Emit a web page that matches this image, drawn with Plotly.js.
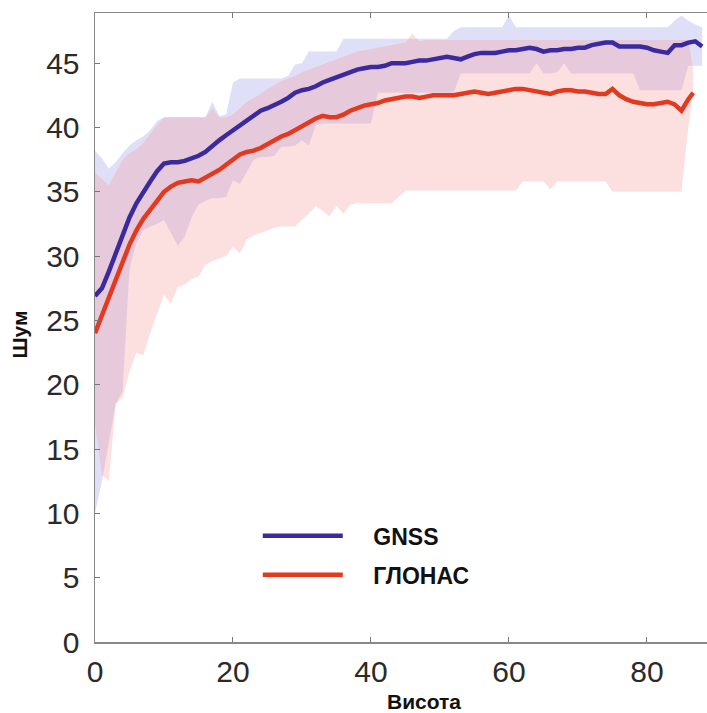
<!DOCTYPE html>
<html><head><meta charset="utf-8">
<script src="https://cdn.plot.ly/plotly-3.0.1.min.js"></script>
<style>html,body{margin:0;padding:0;background:#fff;overflow:hidden}</style>
</head><body><div id="chart" style="width:707px;height:713px"></div>
<script>
const xGnss = [0,1,2,3,4,5,6,7,8,9,10,11,12,13,14,15,16,17,18,19,20,21,22,23,24,25,26,27,28,29,30,31,32,33,34,35,36,37,38,39,40,41,42,43,44,45,46,47,48,49,50,51,52,53,54,55,56,57,58,59,60,61,62,63,64,65,66,67,68,69,70,71,72,73,74,75,76,77,78,79,80,81,82,83,84,85,86,87,88];
const gnssMean = [26.9,27.5,28.8,30.2,31.7,33.0,34.1,35.0,35.8,36.6,
  37.2,37.3,37.3,37.4,37.6,37.8,38.1,38.6,39.0,39.4,
  39.8,40.2,40.5,40.9,41.3,41.5,41.8,42.0,42.3,42.7,
  42.9,43.0,43.2,43.5,43.7,43.9,44.1,44.3,44.5,44.6,
  44.7,44.7,44.8,45.0,45.0,45.0,45.1,45.2,45.2,45.3,
  45.4,45.5,45.4,45.3,45.5,45.7,45.8,45.8,45.8,45.9,
  46.0,46.0,46.1,46.2,46.1,45.9,46.0,46.0,46.1,46.1,
  46.2,46.2,46.4,46.5,46.6,46.6,46.3,46.3,46.3,46.3,
  46.2,46.0,45.9,45.8,46.4,46.4,46.6,46.7,46.3];
const gnssMax = [38.2,37.6,36.8,37.3,38.0,38.6,39.0,39.3,39.8,40.5,
  40.8,40.8,40.8,40.8,40.8,40.8,40.8,42.0,40.9,41.0,
  43.5,43.8,43.8,43.8,43.8,43.8,43.8,43.8,44.0,44.9,
  45.0,45.9,45.9,45.9,45.9,45.9,46.9,46.9,46.9,46.9,
  46.9,46.9,46.9,46.9,46.9,46.9,46.9,46.9,46.9,46.9,
  46.9,46.9,47.5,47.8,47.8,47.8,47.8,47.8,47.8,47.8,
  48.7,47.8,47.8,47.8,47.8,47.8,47.8,47.8,47.8,47.8,
  47.8,47.8,47.8,47.8,47.8,47.8,47.8,47.8,47.8,47.8,
  47.8,47.8,47.8,47.8,48.3,48.7,48.3,48.0,47.8];
const gnssMin = [10.0,12.5,15.5,18.5,19.5,29.0,31.0,32.0,32.3,32.5,
  32.8,31.8,30.8,31.5,33.0,34.0,34.3,34.5,34.5,34.6,
  35.9,35.6,36.5,37.5,37.7,37.7,37.8,38.5,38.5,38.6,
  39.0,38.6,40.2,40.3,40.3,40.3,40.3,40.3,40.3,40.3,
  40.3,42.7,42.7,42.7,42.7,42.7,42.7,42.7,42.7,42.7,
  42.7,42.7,42.7,44.2,44.2,44.2,44.2,44.2,44.2,44.2,
  44.2,44.2,44.2,44.2,45.0,44.2,44.2,44.3,45.0,44.2,
  44.2,44.2,44.2,44.2,44.2,44.2,44.2,44.2,44.2,42.9,
  42.9,42.9,42.9,42.9,42.9,42.9,44.8,44.8,44.8];

const xGlonass = [0,1,2,3,4,5,6,7,8,9,10,11,12,13,14,15,16,17,18,19,20,21,22,23,24,25,26,27,28,29,30,31,32,33,34,35,36,37,38,39,40,41,42,43,44,45,46,47,48,49,50,51,52,53,54,55,56,57,58,59,60,61,62,63,64,65,66,67,68,69,70,71,72,73,74,75,76,77,78,79,80,81,82,83,84,85,86,86.7];
const glonassMean = [24.0,25.4,26.7,28.1,29.5,30.9,32.0,32.9,33.6,34.3,
  35.0,35.4,35.7,35.8,35.9,35.8,36.1,36.3,36.7,37.1,
  37.5,37.9,38.1,38.2,38.4,38.7,39.0,39.3,39.5,39.8,
  40.1,40.4,40.7,40.9,40.8,40.8,41.0,41.3,41.5,41.7,
  41.8,41.9,42.1,42.2,42.3,42.4,42.4,42.3,42.4,42.5,
  42.5,42.5,42.5,42.6,42.7,42.8,42.7,42.6,42.7,42.8,
  42.9,43.0,43.0,42.9,42.8,42.7,42.6,42.8,42.9,42.9,
  42.8,42.8,42.7,42.6,42.6,43.0,42.5,42.2,42.0,41.9,
  41.8,41.8,41.9,42.0,41.8,41.3,42.2,42.7];
const glonassMax = [36.5,36.0,35.5,36.5,37.5,38.0,38.3,38.8,39.5,40.2,
  40.8,40.8,40.8,40.8,40.8,40.8,40.8,41.5,40.8,40.8,
  41.0,41.5,42.0,42.3,42.6,43.0,43.3,43.6,43.8,44.0,
  44.3,44.5,44.7,44.9,45.1,45.3,45.5,45.7,45.9,46.0,
  46.1,46.2,46.3,46.4,46.5,46.6,47.3,46.7,46.8,46.8,
  46.8,46.8,46.8,46.8,46.8,46.8,46.8,46.8,46.8,46.8,
  46.8,46.8,46.8,46.8,46.8,46.8,46.8,46.8,46.8,46.8,
  46.8,46.8,46.8,46.8,46.8,46.8,46.8,46.8,46.8,46.8,
  46.8,46.8,46.8,46.8,46.8,46.8,46.8,44.5];
const glonassMin = [17.0,13.0,12.5,18.5,19.0,21.0,22.5,22.3,24.0,25.5,
  27.0,26.3,27.6,27.8,28.2,28.4,29.3,29.6,29.8,30.0,
  30.7,30.2,31.3,31.6,31.8,32.0,32.2,32.3,32.3,32.3,
  32.8,33.3,33.9,33.5,33.1,33.9,33.3,34.0,34.1,34.1,
  34.1,34.1,34.1,34.1,34.6,35.1,35.1,35.1,35.1,35.1,
  35.1,35.1,35.1,35.1,35.1,35.1,35.1,35.1,35.1,35.1,
  35.1,35.1,35.8,35.8,35.8,35.8,35.2,35.8,35.8,35.8,
  35.8,35.8,35.8,35.8,35.8,35.0,35.0,35.0,35.0,35.0,
  35.0,35.0,35.0,35.0,35.0,35.0,40.0,42.7];

const xTicks = [0,20,40,60,80];
const yTicks = [0,5,10,15,20,25,30,35,40,45];
const seriesNames = ['GNSS','ГЛОНАС'];

const blue = '#3a2a9e', red = '#e2391f';
const pad = '\u00a0\u00a0\u00a0\u00a0';
const traces = [
  {x:xGnss, y:gnssMin, mode:'lines', line:{width:0, color:blue}, showlegend:false, hoverinfo:'skip'},
  {x:xGnss, y:gnssMax, mode:'lines', line:{width:0, color:blue}, fill:'tonexty', fillcolor:'rgba(140,140,230,0.28)', showlegend:false, hoverinfo:'skip'},
  {x:xGlonass, y:glonassMin, mode:'lines', line:{width:0, color:red}, showlegend:false, hoverinfo:'skip'},
  {x:xGlonass, y:glonassMax, mode:'lines', line:{width:0, color:red}, fill:'tonexty', fillcolor:'rgba(245,160,160,0.32)', showlegend:false, hoverinfo:'skip'},
  {x:xGnss, y:gnssMean, mode:'lines', name:pad + seriesNames[0], legendgroup:'a', line:{width:4.5, color:blue}},
  {x:xGlonass, y:glonassMean, mode:'lines', name:pad + seriesNames[1], legendgroup:'b', line:{width:4.5, color:red}}
];
const font = 'Liberation Sans, Arial, sans-serif';
const layout = {
  width:707, height:713,
  margin:{l:95, r:0, t:13, b:71},
  paper_bgcolor:'#fff', plot_bgcolor:'#fff',
  showlegend:true,
  legend:{x:0.266, y:0.203, xanchor:'left', yanchor:'top', bgcolor:'rgba(0,0,0,0)',
    font:{family:font, size:23, color:'#111', weight:700}, tracegroupgap:6, itemwidth:80},
  xaxis:{range:[0,88.7], tickvals:xTicks, ticks:'inside', ticklen:5, tickcolor:'#777',
    showline:true, linecolor:'#888', linewidth:1.5, mirror:'ticks', showgrid:false, zeroline:false,
    tickfont:{family:font, size:30, color:'#2a2a2a'}, ticklabelstandoff:2},
  yaxis:{range:[0,48.9], tickvals:yTicks, ticks:'inside', ticklen:5, tickcolor:'#777',
    showline:true, linecolor:'#888', linewidth:1.5, showgrid:false, zeroline:false,
    tickfont:{family:font, size:30, color:'#2a2a2a'}, ticklabelstandoff:8},
  annotations:[
    {text:'Висота', xref:'paper', yref:'paper', x:0.5376, y:-0.0945, xanchor:'center', yanchor:'middle', showarrow:false,
      font:{family:font, size:21, color:'#111', weight:700}},
    {text:'Шум', xref:'paper', yref:'paper', x:-0.124, y:0.489, xanchor:'center', yanchor:'middle', textangle:-90, showarrow:false,
      font:{family:font, size:21, color:'#111', weight:700}}
  ]
};
Plotly.newPlot('chart', traces, layout, {displayModeBar:false, staticPlot:true});
</script>
</body></html>
